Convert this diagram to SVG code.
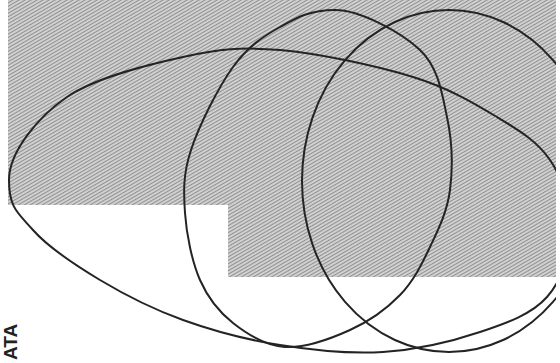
<svg xmlns="http://www.w3.org/2000/svg" width="560" height="363" viewBox="0 0 560 363">
  <style>
    .curve { fill: none; stroke: #242424; stroke-width: 2; stroke-linejoin: round; }
    .label { font-family: "Liberation Sans", Arial, sans-serif; font-weight: bold; fill: #222; }
  </style>
  <defs>
    <pattern id="halftone" patternUnits="userSpaceOnUse" width="3" height="3" patternTransform="rotate(-30)">
      <rect width="3" height="3" fill="#d4d4d4"/>
      <rect width="3" height="1.1" fill="#909090"/>
    </pattern>
    <clipPath id="frame">
      <rect x="0" y="0" width="556" height="363"/>
    </clipPath>
  </defs>
  <rect width="560" height="363" fill="#ffffff"/>
  <g clip-path="url(#frame)">
    <g id="shaded-area">
      <polygon points="8,0 556,0 556,277 228,277 228,205 8,205" fill="url(#halftone)"/>
    </g>
    <g id="ellipse-large">
      <path class="curve" d="M 9,180 C 9,152 38,116.8 67,97 C 96,77.2 147.5,64.8 183,57 C 218.5,49.2 241.7,46.7 280,50 C 318.3,53.3 376.8,65.8 413,77 C 449.2,88.2 474.2,103.2 497,117 C 519.8,130.8 537.5,141.5 550,160 C 562.5,178.5 572.5,205.2 572,228 C 571.5,250.8 562.3,279.7 547,297 C 531.7,314.3 507.3,322.8 480,332 C 452.7,341.2 416.3,349.8 383,352 C 349.7,354.2 313.3,350.3 280,345 C 246.7,339.7 213,330.8 183,320 C 153,309.2 125,295 100,280 C 75,265 48.2,247.3 33,230 C 17.8,212.7 9,208 9,180 Z"/>
    </g>
    <g id="ellipse-middle">
      <path class="curve" d="M 335,10 C 360,10 401.3,32.2 420,50 C 438.7,67.8 442,93.7 447,117 C 452,140.3 452.8,168.3 450,190 C 447.2,211.7 438.3,229.5 430,247 C 421.7,264.5 413.3,281.2 400,295 C 386.7,308.8 369.2,321.3 350,330 C 330.8,338.7 304.5,348.2 285,347 C 265.5,345.8 247.2,334.2 233,323 C 218.8,311.8 208,298.3 200,280 C 192,261.7 186.5,234.7 185,213 C 183.5,191.3 183,174.3 191,150 C 199,125.7 218.2,87.5 233,67 C 247.8,46.5 263,36.5 280,27 C 297,17.5 310,10 335,10 Z"/>
    </g>
    <g id="ellipse-right">
      <ellipse class="curve" cx="449" cy="181" rx="147" ry="171"/>
    </g>
  </g>
  <g id="edge-text">
    <text class="label" font-size="19" transform="translate(17,360) rotate(-90)">ATA</text>
  </g>
</svg>
